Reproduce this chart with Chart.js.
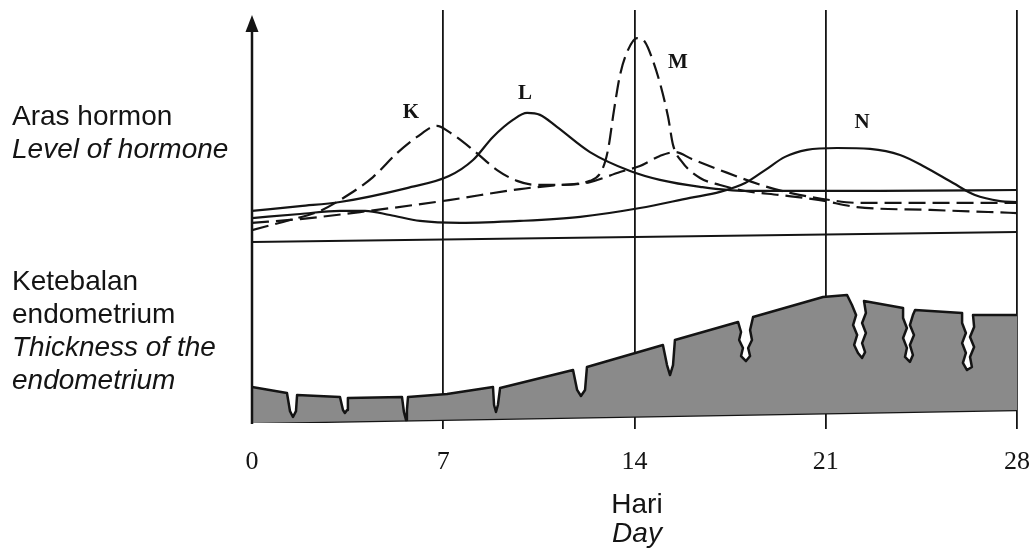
<!DOCTYPE html>
<html>
<head>
<meta charset="utf-8">
<title>Aras hormon dan ketebalan endometrium</title>
<script src="https://cdn.jsdelivr.net/npm/chart.js@4.4.1/dist/chart.umd.min.js"></script>
<style>
    html, body { margin: 0; padding: 0; background: #fff; }
    #wrap { position: relative; width: 1034px; height: 556px; overflow: hidden; }
    #cycleChart { position: absolute; left: 0; top: 0; }
    .side {
        position: absolute;
        left: 12px;
        font-family: "Liberation Sans", Arial, sans-serif;
        font-size: 28px;
        line-height: 33px;
        color: #141414;
        white-space: nowrap;
    }
    .axis-title {
        position: absolute;
        left: 577px;
        width: 120px;
        text-align: center;
        font-family: "Liberation Sans", Arial, sans-serif;
        font-size: 28px;
        line-height: 29px;
        color: #141414;
    }
    i { font-style: italic; }
</style>
</head>
<body>
<div id="wrap">
    <canvas id="cycleChart" width="1034" height="556"></canvas>
    <div class="side" style="top: 99px;">Aras hormon<br><i>Level of hormone</i></div>
    <div class="side" style="top: 264px;">Ketebalan<br>endometrium<br><i>Thickness of the</i><br><i>endometrium</i></div>
    <div class="axis-title" style="top: 489px;">Hari<br><i>Day</i></div>
</div>

<script>
// Day axis
const dayTicks = [0, 7, 14, 21, 28];

// Hormone K (dashed)
const kDays   = [0, 1.39, 2.49, 3.22, 4.43, 5.31, 6.04, 6.77, 7.21, 8.09, 8.97, 9.70, 10.40, 11.27, 12.37, 13.47, 14.20, 14.93, 15.48, 16.10, 17.13, 18.85, 19.69, 21.16, 22.25, 28];
const kLevels = [8.3, 12.5, 16.3, 20.8, 30.4, 40.4, 47.1, 51.7, 49.2, 41.7, 33.3, 28.8, 27.1, 27.1, 28.3, 32.5, 35.0, 39.2, 40.8, 37.9, 33.3, 26.3, 23.8, 20.8, 19.6, 19.6];

// Hormone L (solid)
const lDays   = [0, 1.76, 3.22, 5.67, 7.21, 8.09, 8.82, 9.55, 10.07, 10.54, 11.16, 12.37, 13.84, 14.93, 16.40, 18.05, 22.99, 28];
const lLevels = [16.3, 18.3, 20.0, 25.8, 30.8, 37.5, 47.1, 54.2, 57.1, 56.3, 51.3, 40.8, 32.9, 29.2, 26.3, 24.6, 24.6, 25.0];

// Hormone M (dashed, sharp peak)
const mDays   = [0, 1.76, 3.95, 7.21, 9.81, 11.27, 12.37, 12.81, 13.03, 13.25, 13.47, 13.73, 14.09, 14.38, 14.64, 14.93, 15.23, 15.41, 15.74, 16.40, 17.13, 18.05, 19.33, 20.79, 22.14, 24.82, 28];
const mLevels = [11.3, 12.9, 15.8, 20.8, 25.4, 27.1, 28.8, 33.3, 41.7, 58.3, 72.9, 82.5, 88.3, 86.7, 80.0, 69.6, 55.4, 43.8, 36.7, 30.0, 27.1, 24.6, 22.9, 20.8, 17.9, 16.7, 15.4];

// Hormone N (solid)
const nDays   = [0, 1.76, 3.22, 4.14, 5.05, 6.15, 7.61, 9.81, 12.01, 14.20, 16.03, 17.13, 18.05, 18.78, 19.51, 20.31, 21.41, 22.62, 23.72, 24.63, 25.66, 26.46, 27.38, 28];
const nLevels = [13.3, 15.0, 16.3, 16.3, 14.6, 12.1, 11.3, 12.1, 13.8, 17.5, 21.7, 24.2, 27.9, 33.3, 38.8, 41.7, 42.5, 42.1, 39.6, 34.6, 27.9, 22.9, 20.4, 20.0];

// Zero line under the hormone curves
const hormoneBaseDays   = [0, 28];
const hormoneBaseLevels = [3.3, 7.5];

// Endometrium surface, including the shedding notches
const endoDays = [
    0, 1.28, 1.39, 1.50, 1.61, 1.65, 3.22, 3.33, 3.40, 3.48, 3.51,
    5.49, 5.56, 5.64, 5.67, 5.71, 7.14, 8.82, 8.86, 8.93, 9.00, 9.08,
    11.75, 11.90, 12.04, 12.19, 12.26, 15.04, 15.19, 15.30, 15.41, 15.48,
    17.79, 17.90, 17.83, 17.97, 17.90, 18.08, 18.23, 18.16, 18.30, 18.23, 18.34,
    20.90, 21.78, 21.96, 22.11, 22.00, 22.15, 22.04, 22.18, 22.33, 22.44, 22.33, 22.47, 22.33, 22.47, 22.40,
    23.83, 23.83, 23.97, 23.83, 23.97, 23.90, 24.08, 24.19, 24.08, 24.23, 24.08, 24.19, 24.27,
    25.99, 25.99, 26.13, 25.99, 26.13, 26.02, 26.17, 26.35, 26.28, 26.43, 26.28, 26.43, 26.39, 28
];
const endoThickness = [
    20.8, 17.3, 6.9, 3.5, 6.9, 16.2, 15.0, 7.5, 5.8, 7.5, 14.5,
    15.0, 6.4, 1.7, 7.5, 15.0, 16.8, 20.8, 10.4, 6.4, 10.4, 20.2,
    30.6, 19.1, 15.6, 19.1, 32.4, 45.1, 33.5, 27.7, 33.5, 48.0,
    58.4, 52.6, 48.0, 43.4, 38.7, 35.8, 38.7, 43.4, 48.0, 53.8, 61.3,
    72.8, 74.0, 68.2, 62.4, 56.6, 50.9, 45.1, 40.5, 37.6, 41.0, 46.2, 52.0, 57.8, 63.6, 70.5,
    66.5, 60.7, 54.9, 49.1, 43.4, 38.2, 35.3, 39.3, 45.1, 50.9, 56.6, 62.4, 65.3,
    63.6, 57.8, 52.0, 46.2, 40.5, 34.7, 30.6, 32.4, 38.2, 43.9, 49.7, 55.5, 62.4, 62.4
];
const endoBaseDays      = [0, 28];
const endoBaseThickness = [0, 7.5];

// Letters naming each hormone curve
const curveNames     = ['K', 'L', 'M', 'N'];
const curveNameDays  = [5.82, 9.99, 15.59, 22.33];
const curveNameLevel = [57.1, 65.0, 77.9, 52.9];

const INK = '#141414';

function toPoints(xs, ys) {
    return xs.map((x, i) => ({ x: x, y: ys[i] }));
}

function hormoneLine(label, xs, ys, dashed) {
    return {
        label: label,
        data: toPoints(xs, ys),
        yAxisID: 'yH',
        borderColor: INK,
        borderWidth: 2.2,
        borderDash: dashed ? [17, 7] : [],
        pointRadius: 0,
        cubicInterpolationMode: 'monotone',
        fill: false
    };
}

// y axis with arrow head, and the K/L/M/N letters
const decorations = {
    id: 'decorations',
    afterDraw(chart) {
        const { ctx, chartArea, scales } = chart;
        const x0 = chartArea.left;

        ctx.save();
        ctx.strokeStyle = INK;
        ctx.fillStyle = INK;
        ctx.lineWidth = 2.5;
        ctx.beginPath();
        ctx.moveTo(x0, chartArea.bottom + 1);
        ctx.lineTo(x0, 28);
        ctx.stroke();

        ctx.beginPath();
        ctx.moveTo(x0, 15);
        ctx.lineTo(x0 - 6.5, 32);
        ctx.lineTo(x0 + 6.5, 32);
        ctx.closePath();
        ctx.fill();

        ctx.font = 'bold 21px "Liberation Serif", "DejaVu Serif", serif';
        ctx.textAlign = 'center';
        ctx.textBaseline = 'middle';
        curveNames.forEach((name, i) => {
            ctx.fillText(name,
                scales.x.getPixelForValue(curveNameDays[i]),
                scales.yH.getPixelForValue(curveNameLevel[i]));
        });
        ctx.restore();
    }
};

new Chart(document.getElementById('cycleChart'), {
    type: 'line',
    data: {
        datasets: [
            {
                label: 'baseline',
                data: toPoints(hormoneBaseDays, hormoneBaseLevels),
                yAxisID: 'yH',
                borderColor: INK,
                borderWidth: 2,
                pointRadius: 0,
                tension: 0,
                fill: false
            },
            hormoneLine('K', kDays, kLevels, true),
            hormoneLine('L', lDays, lLevels, false),
            hormoneLine('M', mDays, mLevels, true),
            hormoneLine('N', nDays, nLevels, false),
            {
                label: 'endometrium',
                data: toPoints(endoDays, endoThickness),
                yAxisID: 'yE',
                borderColor: INK,
                borderWidth: 2.5,
                borderJoinStyle: 'round',
                backgroundColor: '#8a8a8a',
                pointRadius: 0,
                tension: 0,
                fill: '+1'
            },
            {
                label: 'endometrium base',
                data: toPoints(endoBaseDays, endoBaseThickness),
                yAxisID: 'yE',
                borderColor: INK,
                borderWidth: 2.5,
                pointRadius: 0,
                tension: 0,
                fill: false
            }
        ]
    },
    options: {
        responsive: false,
        animation: false,
        devicePixelRatio: 1,
        layout: {
            padding: { left: 252, right: 17, top: 10, bottom: 0 }
        },
        plugins: {
            legend: { display: false },
            tooltip: { enabled: false }
        },
        scales: {
            x: {
                type: 'linear',
                min: 0,
                max: 28,
                z: 1,
                afterFit: (scale) => {
                    scale.height = 133;
                    scale.paddingLeft = 0;
                    scale.paddingRight = 0;
                },
                afterBuildTicks: (scale) => { scale.ticks = dayTicks.map(v => ({ value: v })); },
                border: { display: false },
                grid: {
                    color: (ctx) => (ctx.tick && ctx.tick.value === 0) ? 'rgba(0,0,0,0)' : INK,
                    lineWidth: 1.8,
                    tickLength: 6
                },
                ticks: {
                    color: INK,
                    font: { family: '"Liberation Serif", "DejaVu Serif", serif', size: 26 },
                    padding: 18,
                    maxRotation: 0,
                    autoSkip: false
                }
            },
            yE: {
                type: 'linear',
                min: 0,
                max: 100,
                display: false,
                stack: 'panels',
                stackWeight: 173,
                weight: 1
            },
            yH: {
                type: 'linear',
                min: 0,
                max: 100,
                display: false,
                stack: 'panels',
                stackWeight: 240,
                weight: 2
            }
        }
    },
    plugins: [decorations]
});
</script>
</body>
</html>
